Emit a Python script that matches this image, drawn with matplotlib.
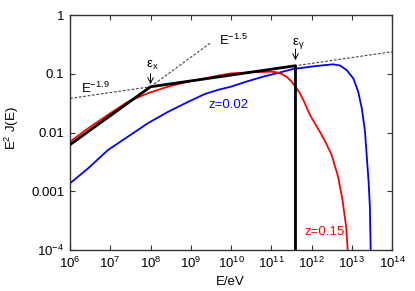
import numpy as np
import matplotlib
matplotlib.use("Agg")
import matplotlib.pyplot as plt

plt.rcParams['font.family'] = ['Liberation Sans', 'DejaVu Sans']
plt.rcParams['mathtext.fontset'] = 'custom'
plt.rcParams['mathtext.rm'] = 'Liberation Sans'
plt.rcParams['mathtext.it'] = 'Liberation Sans:italic'
plt.rcParams['mathtext.bf'] = 'Liberation Sans:bold'

# ---- data (log10 E, log10 E^2 J) ----
blue_logE = [6.0, 6.45, 6.94, 7.44, 7.94, 8.43, 8.93, 9.35, 9.7, 10.0, 10.4, 10.8, 11.2,
             11.57, 11.71, 12.04, 12.3, 12.54, 12.71, 12.87, 13.04, 13.16, 13.25, 13.33,
             13.37, 13.42, 13.45, 13.47]
blue_logF = [-2.865, -2.61, -2.30, -2.07, -1.84, -1.65, -1.48, -1.345, -1.27, -1.22, -1.13,
             -1.05, -0.98, -0.915, -0.905, -0.875, -0.855, -0.84, -0.86, -0.936, -1.08, -1.305,
             -1.59, -1.99, -2.38, -2.85, -3.26, -4.0]

red_logE = [6.0, 6.45, 6.94, 7.44, 7.94, 8.43, 8.93, 9.35, 9.7, 10.0, 10.5, 11.0, 11.13,
            11.25, 11.38, 11.5, 11.63, 11.71, 11.8, 11.96, 12.08, 12.21, 12.33, 12.5,
            12.66, 12.77, 12.86, 12.90]
red_logF = [-2.156, -1.93, -1.70, -1.475, -1.33, -1.22, -1.135, -1.08, -1.03, -0.995, -0.975,
            -0.965, -0.975, -1.0, -1.05, -1.13, -1.25, -1.33, -1.45, -1.70, -1.84, -1.99,
            -2.14, -2.38, -2.75, -3.15, -3.60, -4.0]

# broken power-law model (black)
model_E = [1e6, 1e8, 4e11, 4e11]
model_F = [0.0062, 0.060, 0.137, 1e-4]

# reference power laws (dashed)
ref19_E = [1e6, 1e14]
ref19_F = [0.038, 0.237]
ref15_E = [1e8, 3.0e9]
ref15_F = [0.060, 0.33]

xticks = [1e6, 1e7, 1e8, 1e9, 1e10, 1e11, 1e12, 1e13, 1e14]
xticklabels = [r'$10^{6}$', r'$10^{7}$', r'$10^{8}$', r'$10^{9}$', r'$10^{10}$',
               r'$10^{11}$', r'$10^{12}$', r'$10^{13}$', r'$10^{14}$']
yticks = [1e-4, 1e-3, 1e-2, 1e-1, 1]
yticklabels = [r'$10^{-4}$', '0.001', '0.01', '0.1', '1']

fig = plt.figure(figsize=(4.15, 2.91), dpi=100)
ax = fig.add_axes([70/415, 41/291, 322/415, 235/291])
ax.set_xscale('log')
ax.set_yscale('log')
ax.set_xlim(1e6, 1e14)
ax.set_ylim(1e-4, 1)

ax.plot(ref19_E, ref19_F, color='#444444', lw=0.8, ls=(0, (2.5, 1.5)), zorder=1)
ax.plot(ref15_E, ref15_F, color='#444444', lw=0.8, ls=(0, (2.5, 1.5)), zorder=1)

ax.plot(10**np.array(blue_logE), 10**np.array(blue_logF), color='#0000ff', lw=1.3, zorder=2)
ax.plot(10**np.array(red_logE), 10**np.array(red_logF), color='#ff0000', lw=1.3, zorder=2)
ax.plot(model_E, model_F, color='black', lw=2.0, zorder=3)

ax.set_xticks(xticks)
ax.set_xticklabels(xticklabels)
ax.set_yticks(yticks)
ax.set_yticklabels(yticklabels)
ax.minorticks_off()
ax.tick_params(which='both', direction='in', top=True, right=True, length=3.5,
               width=0.8, labelsize=9.5, pad=4, color='#333333')
for s in ax.spines.values():
    s.set_linewidth(1.0)
    s.set_color('#333333')

fs = 9.5
ax.text(10**9.95, 10**-1.53, 'z=0.02', color='#0000ff', fontsize=fs, ha='center', va='center')
ax.text(10**12.32, 10**-3.69, 'z=0.15', color='#ff0000', fontsize=fs, ha='center', va='center')
ax.text(10**6.28, 10**-1.32, r'E$^{-1.9}$', fontsize=fs, ha='left', va='baseline')
ax.text(10**9.70, 10**-0.51, r'E$^{-1.5}$', fontsize=fs, ha='left', va='baseline')
ax.text(10**7.90, 10**-0.905, r'ε$_{\mathrm{x}}$', fontsize=fs, ha='left', va='baseline')
ax.text(10**11.51, 10**-0.51, r'ε$_{\mathrm{γ}}$', fontsize=fs, ha='left', va='baseline')
ax.annotate('', xy=(1e8, 10**-1.18), xytext=(1e8, 10**-1.0),
            arrowprops=dict(arrowstyle='->', lw=0.7, color='black', shrinkA=0, shrinkB=0))
ax.annotate('', xy=(4e11, 10**-0.77), xytext=(4e11, 10**-0.58),
            arrowprops=dict(arrowstyle='->', lw=0.7, color='black', shrinkA=0, shrinkB=0))

fig.text(230/415, 1 - 282/291, 'E/eV', fontsize=fs, ha='center', va='center')
fig.text(12/415, 1 - 128/291, r'E$^2$ J(E)', fontsize=fs, ha='center', va='center', rotation=90)

fig.savefig('out.png', dpi=100)
